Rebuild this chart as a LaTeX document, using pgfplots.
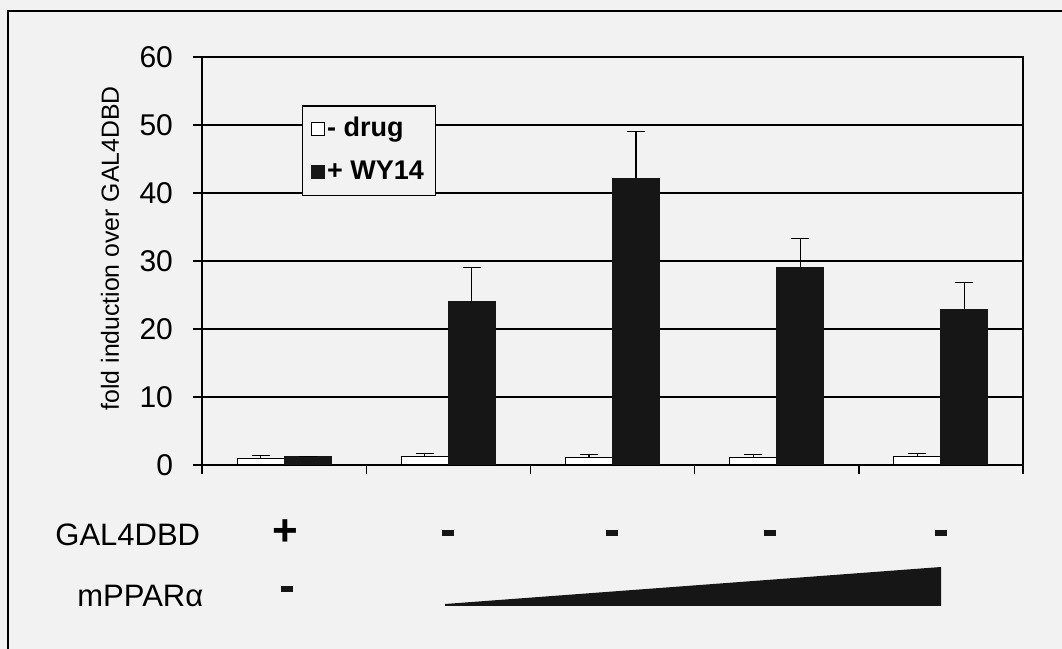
\documentclass[border=0pt]{standalone}
\usepackage{fontspec}
\setmainfont{Liberation Sans}
\usepackage{pgfplots}
\pgfplotsset{compat=1.18}
\definecolor{paper}{RGB}{242,242,242}
\definecolor{barblack}{RGB}{22,22,22}
\begin{document}
\begin{tikzpicture}
\useasboundingbox (0,0) rectangle (531pt,324.5pt);
\fill[paper] (0,0) rectangle (531pt,324.5pt);
\draw[line width=1pt] (4pt,-2pt) -- (4pt,319pt) -- (535pt,319pt);
\begin{axis}[
  at={(101pt,92pt)}, anchor=south west,
  scale only axis, width=410.5pt, height=204pt,
  xmin=-0.5, xmax=4.5, ymin=0, ymax=60,
  ytick={0,10,...,60},
  xtick={-0.5,0.5,...,4.5}, xticklabels={},
  xtick pos=lower, ytick pos=left,
  tick align=outside, major tick length=4.5pt,
  ymajorgrids, grid style={black, line width=0.7pt},
  axis line style={line width=0.7pt},
  tick style={black, line width=0.7pt},
  yticklabel style={font=\fontsize{15}{17}\selectfont, xshift=-6.5pt, /pgf/number format/assume math mode=true},
  ylabel={fold induction over GAL4DBD},
  ylabel style={font=\fontsize{12.4}{14}\selectfont, at={(axis description cs:-0.112,0.531)}, anchor=center},
  ybar=0pt, bar width=23.5pt,
  legend image code/.code={\draw[#1, line width=0.5pt] (0pt,-3.3pt) rectangle (6.2pt,3.3pt);},
  legend style={at={(axis description cs:0.1214,0.882)}, anchor=north west, draw=black, line width=0.7pt, fill=paper,
    font=\fontsize{13.5}{15}\selectfont\bfseries, inner xsep=4.5pt, inner ysep=4pt, row sep=6pt,
    nodes={inner sep=1.2pt, text height=10pt, text depth=3pt},
    /tikz/every odd column/.style={column sep=0pt}},
  legend cell align=left,
]
\addplot+[fill=white, draw=black, line width=0.5pt,
  error bars/.cd, y dir=plus, y explicit,
  error bar style={line width=0.6pt, black},
  error mark options={rotate=90, mark size=4.5pt, line width=0.6pt, black}]
  table[x=x, y=y, y error=e] {
x y e
0 1.0 0.4
1 1.2 0.5
2 1.1 0.5
3 1.1 0.5
4 1.2 0.5
};
\addplot+[fill=barblack, draw=barblack, line width=0.5pt,
  error bars/.cd, y dir=plus, y explicit,
  error bar style={line width=0.6pt, black},
  error mark options={rotate=90, mark size=4.5pt, line width=0.6pt, black}]
  table[x=x, y=y, y error=e] {
x y e
0 1.3 0.0
1 24.0 5.0
2 42.2 6.8
3 29.0 4.3
4 22.9 3.9
};
\legend{- drug, + WY14}
\end{axis}
% lower annotation table
\node[anchor=base west, inner sep=0pt, font=\fontsize{15.5}{18}\selectfont] at (27.5pt,51.5pt) {GAL4DBD};
\node[anchor=base west, inner sep=0pt, font=\fontsize{15.5}{18}\selectfont] at (38.5pt,21pt) {mPPARα};
\node[inner sep=0pt, font=\fontsize{22}{24}\selectfont\bfseries] at (142.5pt,58pt) {+};
\foreach \xx in {224,306,385,470.5} {
  \fill[barblack] (\xx pt-3pt,56.5pt) rectangle (\xx pt+3pt,59.5pt);
}
\fill[barblack] (140.5pt,28.5pt) rectangle (146.5pt,31.5pt);
\fill[barblack] (222.5pt,21.5pt) -- (470.5pt,21.5pt) -- (470.5pt,41pt) -- (222.5pt,22.5pt) -- cycle;
\end{tikzpicture}
\end{document}
